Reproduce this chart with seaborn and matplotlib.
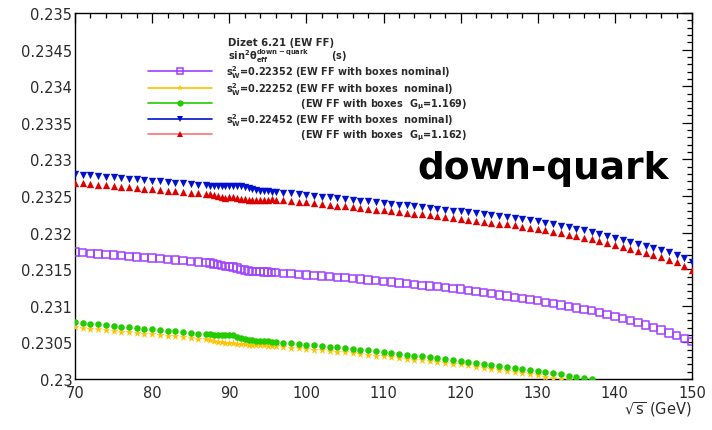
import matplotlib
matplotlib.use("Agg")
import matplotlib.pyplot as plt
from matplotlib.lines import Line2D
from matplotlib.ticker import MultipleLocator, FixedLocator, FixedFormatter
import pandas as pd
import seaborn as sns

# ---------------- data ----------------
sqrt_s = [70, 71, 72, 73, 74, 75, 76, 77, 78, 79, 80, 81, 82, 83, 84, 85, 86, 87,
          87.5, 88, 88.5, 89, 89.5, 90, 90.5, 91, 91.5, 92, 92.5, 93, 93.5, 94, 94.5, 95, 95.5, 96,
          97, 98, 99, 100, 101, 102, 103, 104, 105, 106, 107, 108, 109, 110,
          111, 112, 113, 114, 115, 116, 117, 118, 119, 120, 121, 122, 123, 124, 125,
          126, 127, 128, 129, 130, 131, 132, 133, 134, 135, 136, 137, 138, 139, 140,
          141, 142, 143, 144, 145, 146, 147, 148, 149, 150]

purple_sw22352 = [0.231735, 0.231727, 0.231718, 0.231710, 0.231701, 0.231693, 0.231685, 0.231676,
                  0.231668, 0.231659, 0.231651, 0.231643, 0.231634, 0.231626, 0.231617, 0.231609,
                  0.231600, 0.231592,
                  0.231585, 0.231570, 0.231560, 0.231550, 0.231540, 0.231535, 0.231528, 0.231515,
                  0.231500, 0.231488, 0.231475, 0.231470, 0.231468, 0.231466, 0.231463, 0.231460,
                  0.231456, 0.231452,
                  0.231444, 0.231437, 0.231429, 0.231421, 0.231414, 0.231406, 0.231398, 0.231391,
                  0.231383, 0.231375, 0.231365, 0.231354, 0.231344, 0.231333, 0.231323, 0.231313,
                  0.231302, 0.231292, 0.231281, 0.231271, 0.231261, 0.231250, 0.231240, 0.231229,
                  0.231213, 0.231197, 0.231181, 0.231165, 0.231149, 0.231133, 0.231117, 0.231101,
                  0.231085, 0.231069, 0.231049, 0.231030, 0.231010, 0.230990, 0.230971, 0.230951,
                  0.230932, 0.230905, 0.230879, 0.230852, 0.230825, 0.230799, 0.230772, 0.230740,
                  0.230705, 0.230668, 0.230630, 0.230595, 0.230555, 0.230515]

yellow_sw22252 = [0.230705, 0.230696, 0.230686, 0.230677, 0.230667, 0.230658, 0.230648, 0.230639,
                  0.230629, 0.230620, 0.230610, 0.230601, 0.230591, 0.230582, 0.230572, 0.230563,
                  0.230553, 0.230540,
                  0.230530, 0.230518, 0.230508, 0.230500, 0.230495, 0.230490, 0.230487, 0.230483,
                  0.230478, 0.230472, 0.230468, 0.230466, 0.230464, 0.230462, 0.230459, 0.230455,
                  0.230451, 0.230446,
                  0.230437, 0.230428, 0.230419, 0.230410, 0.230401, 0.230392, 0.230383, 0.230374,
                  0.230364, 0.230354, 0.230343, 0.230332, 0.230321, 0.230310, 0.230299, 0.230288,
                  0.230277, 0.230266, 0.230255, 0.230244, 0.230233, 0.230222, 0.230211, 0.230200,
                  0.230185, 0.230170, 0.230155, 0.230140, 0.230125, 0.230110, 0.230095, 0.230080,
                  0.230065, 0.230050, 0.230033, 0.230016, 0.229999, 0.229982]

green_gmu1169 = [0.230775, 0.230765, 0.230756, 0.230746, 0.230737, 0.230727, 0.230717, 0.230708,
                 0.230698, 0.230688, 0.230679, 0.230669, 0.230660, 0.230650, 0.230640, 0.230631,
                 0.230621, 0.230612,
                 0.230608, 0.230606, 0.230604, 0.230603, 0.230602, 0.230600, 0.230595, 0.230580,
                 0.230560, 0.230540, 0.230530, 0.230527, 0.230524, 0.230521, 0.230518, 0.230513,
                 0.230509, 0.230504,
                 0.230495, 0.230486, 0.230477, 0.230468, 0.230458, 0.230449, 0.230440, 0.230431,
                 0.230422, 0.230412, 0.230401, 0.230390, 0.230378, 0.230367, 0.230355, 0.230344,
                 0.230332, 0.230321, 0.230309, 0.230298, 0.230286, 0.230275, 0.230263, 0.230252,
                 0.230238, 0.230225, 0.230211, 0.230197, 0.230184, 0.230170, 0.230157, 0.230143,
                 0.230129, 0.230115, 0.230098, 0.230081, 0.230064, 0.230046, 0.230029, 0.230012,
                 0.229995]

blue_sw22452 = [0.232800, 0.232791, 0.232782, 0.232773, 0.232764, 0.232755, 0.232745, 0.232736,
                0.232727, 0.232718, 0.232709, 0.232700, 0.232690, 0.232681, 0.232672, 0.232663,
                0.232654, 0.232645,
                0.232641, 0.232637, 0.232634, 0.232632, 0.232630, 0.232633, 0.232637, 0.232636,
                0.232632, 0.232624, 0.232603, 0.232590, 0.232580, 0.232572, 0.232568, 0.232563,
                0.232559, 0.232555,
                0.232545, 0.232535, 0.232524, 0.232514, 0.232503, 0.232492, 0.232481, 0.232470,
                0.232459, 0.232448, 0.232437, 0.232426, 0.232415, 0.232404, 0.232393, 0.232382,
                0.232371, 0.232360, 0.232349, 0.232337, 0.232325, 0.232313, 0.232301, 0.232289,
                0.232276, 0.232263, 0.232250, 0.232237, 0.232224, 0.232211, 0.232197, 0.232183,
                0.232169, 0.232155, 0.232135, 0.232114, 0.232094, 0.232073, 0.232052, 0.232031,
                0.232010, 0.231982, 0.231954, 0.231926, 0.231898, 0.231870, 0.231842, 0.231815,
                0.231788, 0.231760, 0.231730, 0.231695, 0.231650, 0.231595]

red_gmu1162 = [0.232680, 0.232671, 0.232662, 0.232653, 0.232644, 0.232635, 0.232626, 0.232617,
               0.232608, 0.232599, 0.232590, 0.232581, 0.232572, 0.232563, 0.232554, 0.232545,
               0.232536, 0.232527,
               0.232522, 0.232510, 0.232495, 0.232480, 0.232470, 0.232485, 0.232490, 0.232478,
               0.232465, 0.232455, 0.232448, 0.232445, 0.232446, 0.232448, 0.232450, 0.232452,
               0.232453, 0.232452,
               0.232443, 0.232434, 0.232423, 0.232413, 0.232402, 0.232391, 0.232380, 0.232369,
               0.232358, 0.232347, 0.232336, 0.232325, 0.232314, 0.232303, 0.232292, 0.232282,
               0.232271, 0.232260, 0.232249, 0.232237, 0.232225, 0.232213, 0.232201, 0.232189,
               0.232176, 0.232163, 0.232150, 0.232137, 0.232124, 0.232111, 0.232097, 0.232083,
               0.232069, 0.232055, 0.232035, 0.232014, 0.231994, 0.231973, 0.231952, 0.231931,
               0.231910, 0.231882, 0.231854, 0.231826, 0.231798, 0.231770, 0.231742, 0.231715,
               0.231688, 0.231660, 0.231630, 0.231595, 0.231550, 0.231495]

legend_labels = [
    r"s$_{W}^{2}$=0.22352 (EW FF with boxes nominal)",
    r"s$_{W}^{2}$=0.22252 (EW FF with boxes  nominal)",
    r"                      (EW FF with boxes  G$_{\mu}$=1.169)",
    r"s$_{W}^{2}$=0.22452 (EW FF with boxes  nominal)",
    r"                      (EW FF with boxes  G$_{\mu}$=1.162)",
]
header_lines = ["Dizet 6.21 (EW FF)", r"sin$^{2}\theta^{down-quark}_{eff}$       (s)"]
y_ticks = [0.23, 0.2305, 0.231, 0.2315, 0.232, 0.2325, 0.233, 0.2335, 0.234, 0.2345, 0.235]
y_tick_labels = ["0.23", "0.2305", "0.231", "0.2315", "0.232", "0.2325",
                 "0.233", "0.2335", "0.234", "0.2345", "0.235"]
x_ticks = [70, 80, 90, 100, 110, 120, 130, 140, 150]
x_tick_labels = ["70", "80", "90", "100", "110", "120", "130", "140", "150"]

# ---------------- style ----------------
sns.set_theme(style="white")
plt.rcParams["font.family"] = ["DejaVu Sans"]
plt.rcParams["mathtext.default"] = "regular"

C_PURPLE = "#a040ff"
C_YELLOW = "#ffc400"
C_GREEN = "#22cc00"
C_BLUE = "#0010cc"
C_RED = "#dd0000"
C_RED_LINE = "#ff7070"
TXT = "#2a2a2a"

fig = plt.figure(figsize=(7.12, 4.31), dpi=100)
ax = fig.add_axes([75 / 712, 51 / 431, 617 / 712, 366 / 431])

series = [
    ("purple", purple_sw22352, "s", C_PURPLE, 28, 3),
    ("yellow", yellow_sw22252, "*", C_YELLOW, 36, 3),
    ("green", green_gmu1169, "o", C_GREEN, 22, 4),
    ("blue", blue_sw22452, "v", C_BLUE, 28, 3),
    ("red", red_gmu1162, "^", C_RED, 28, 4),
]
for name, vals, mk, col, size, z in series:
    df = pd.DataFrame({"sqrt_s": sqrt_s[:len(vals)], "sin2": vals})
    sns.scatterplot(data=df, x="sqrt_s", y="sin2", ax=ax, marker=mk, s=size,
                    color=col, linewidth=0, zorder=z, legend=False)
    if name == "purple":
        coll = ax.collections[-1]
        coll.set_facecolor("none")
        coll.set_edgecolor(C_PURPLE)
        coll.set_linewidth(1.1)

ax.set_xlim(70, 150)
ax.set_ylim(0.23, 0.235)
ax.yaxis.set_major_locator(FixedLocator(y_ticks))
ax.yaxis.set_major_formatter(FixedFormatter(y_tick_labels))
ax.xaxis.set_major_locator(FixedLocator(x_ticks))
ax.xaxis.set_major_formatter(FixedFormatter(x_tick_labels))
ax.yaxis.set_minor_locator(MultipleLocator(0.0001))
ax.xaxis.set_minor_locator(MultipleLocator(2))
ax.tick_params(which="both", direction="in", top=True, right=True,
               color="black", width=0.9, labelcolor=TXT, labelsize=10.5)
ax.tick_params(axis="y", which="major", length=7.5, pad=2)
ax.tick_params(axis="y", which="minor", length=3.5)
ax.tick_params(axis="x", which="major", length=7.5, pad=4)
ax.tick_params(axis="x", which="minor", length=3.5)
for sp in ax.spines.values():
    sp.set_color("black")
    sp.set_linewidth(1.0)
ax.set_xlabel(r"$\sqrt{s}$ (GeV)", loc="right", fontsize=10.5, color=TXT, labelpad=0)
ax.set_ylabel("")

# legend
handles = [
    Line2D([], [], color=C_PURPLE, lw=1.2, marker="s", markersize=5, markerfacecolor="none",
           markeredgecolor=C_PURPLE, markeredgewidth=1.1),
    Line2D([], [], color=C_YELLOW, lw=1.2, marker="*", markersize=5, markeredgewidth=0),
    Line2D([], [], color=C_GREEN, lw=1.2, marker="o", markersize=4.5, markeredgewidth=0),
    Line2D([], [], color=C_BLUE, lw=1.2, marker="v", markersize=5, markeredgewidth=0),
    Line2D([], [], color=C_RED_LINE, lw=1.2, marker="^", markersize=5, markerfacecolor=C_RED,
           markeredgewidth=0),
]
leg = ax.legend(handles, legend_labels, loc="upper left",
                bbox_to_anchor=(148 / 712, 1 - 64 / 431), bbox_transform=fig.transFigure,
                frameon=False, prop={"family": "DejaVu Sans", "size": 7.0, "weight": "bold"},
                handlelength=6.6, handletextpad=1.45, labelspacing=0.0,
                borderpad=0, borderaxespad=0)
for t in leg.get_texts():
    t.set_color(TXT)

fig.text(228 / 712, 1 - 43 / 431, header_lines[0], fontsize=7.3, family="DejaVu Sans",
         fontweight="bold", color=TXT, va="center", ha="left")
fig.text(228 / 712, 1 - 56 / 431, header_lines[1], fontsize=7.0, family="DejaVu Sans",
         fontweight="bold", color=TXT, va="center", ha="left")

fig.text(543 / 712, 1 - 169 / 431, "down-quark", fontsize=27, fontweight="bold",
         family="DejaVu Sans", color="black", ha="center", va="center")

fig.savefig("out.png", dpi=100)
